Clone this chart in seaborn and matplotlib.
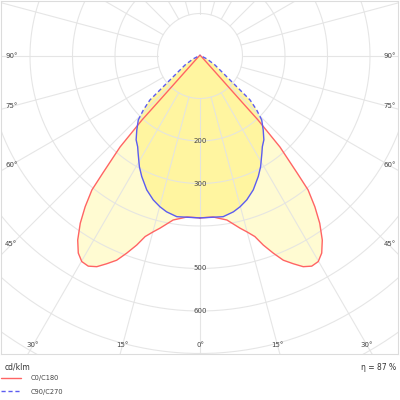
import numpy as np
import pandas as pd
import matplotlib
matplotlib.use("Agg")
import matplotlib.pyplot as plt
import seaborn as sns

# luminous intensity (cd/klm) against gamma (deg), both planes symmetric
c0_gamma = [0, 4.6, 9.3, 13.1, 14.9, 16.9, 18.5, 20.4, 22.2, 24.2, 26.1, 28.0, 29.9,
            31.7, 33.6, 35.6, 37.3, 38.9, 39.7, 41.3, 42.2, 42.3, 42.6, 43.6, 46.5, 60, 90, 180]
c0_cd = [381, 380, 391, 416, 428, 444, 469, 495, 519, 536, 552, 560, 558,
         545, 520, 484, 446, 405, 358, 285, 203, 152, 101, 50, 19, 5, 2, 2]

c90_gamma = [0, 8.2, 12.1, 14.9, 18.0, 21.7, 25.8, 28.7, 32.5, 34.5, 37.3, 40.5,
             44.0, 46.4, 48.7, 50.4, 52.8, 59, 67, 90, 180]
c90_cd = [381, 382, 375, 367, 356, 339, 315, 297, 271, 259, 248, 229,
          209, 184, 157, 107, 74, 41, 18, 3, 2]

ring_values = [100, 200, 300, 400, 500, 600, 700, 800, 900]
ring_labels = [200, 300, 500, 600]
side_angles = [90, 75, 60, 45]
bottom_angles = [30, 15, 0]
spoke_step = 15
unit = "cd/klm"
efficiency = "η = 87 %"
names = ["C0/C180", "C90/C270"]

red = "#ff6464"
blue = "#5c5cf0"
fill_c0 = "#fffbd2"
fill_c90 = "#fff5a0"
grid_col = "#e3e3e3"


def to_xy(gamma, cd):
    g = np.radians(gamma)
    r = np.asarray(cd, dtype=float)
    return r * np.sin(g), -r * np.cos(g)


def outline(gamma, cd):
    x, y = to_xy(gamma, cd)
    return np.concatenate([x, -x[::-1]]), np.concatenate([y, y[::-1]])


sns.set_theme(style="white")
plt.rcParams["font.family"] = ["DejaVu Sans"]

fig = plt.figure(figsize=(4, 4), dpi=100)
ax = fig.add_axes([1 / 400, 46 / 400, 397 / 400, 353 / 400])
s = 0.425  # px per cd/klm
ax.set_xlim((1 - 200) / s, (398 - 200) / s)
ax.set_ylim(-(354 - 56) / s, (56 - 1) / s)
ax.set_xticks([])
ax.set_yticks([])
for sp in ax.spines.values():
    sp.set_color("#dcdcdc")
    sp.set_linewidth(0.8)

# fills
fx, fy = outline(c0_gamma, c0_cd)
ax.fill(fx, fy, color=fill_c0, zorder=1, lw=0)
fx, fy = outline(c90_gamma, c90_cd)
ax.fill(fx, fy, color=fill_c90, zorder=1.1, lw=0)

# polar grid
t = np.linspace(0, 2 * np.pi, 361)
for rv in ring_values:
    ax.plot(rv * np.sin(t), rv * np.cos(t), color=grid_col, lw=0.8, zorder=2, alpha=0.9)
for a in range(0, 360, spoke_step):
    ar = np.radians(a)
    ax.plot([100 * np.sin(ar), 1200 * np.sin(ar)], [-100 * np.cos(ar), -1200 * np.cos(ar)],
            color=grid_col, lw=0.8, zorder=2, alpha=0.9)

# curves
x0, y0 = outline(c0_gamma, c0_cd)
d0 = pd.DataFrame({"x": x0, "y": y0})
sns.lineplot(data=d0, x="x", y="y", sort=False, estimator=None, color=red, lw=1,
             ax=ax, zorder=3, label=names[0])

g90 = np.array(c90_gamma)
cd90 = np.array(c90_cd)
lo = g90 <= 44
hi = g90 >= 44
xs, ys = to_xy(g90[lo], cd90[lo])
d_solid = pd.DataFrame({"x": np.concatenate([-xs[::-1], xs]), "y": np.concatenate([ys[::-1], ys])})
sns.lineplot(data=d_solid, x="x", y="y", sort=False, estimator=None, color=blue, lw=1,
             ax=ax, zorder=4)
xh, yh = to_xy(g90[hi], cd90[hi])
for sign, lab in [(1, names[1]), (-1, None)]:
    dh = pd.DataFrame({"x": sign * xh, "y": yh})
    sns.lineplot(data=dh, x="x", y="y", sort=False, estimator=None, color=blue, lw=1,
                 ax=ax, zorder=4, linestyle=(0, (3, 2)), label=lab)

handles, labels = ax.get_legend_handles_labels()
ax.get_legend().remove()
ax.set_xlabel("")
ax.set_ylabel("")

# labels
txt = dict(fontsize=5, color="#444444", zorder=5)
for rv in ring_labels:
    ax.text(0, -rv, str(rv), ha="center", va="center", **txt)
xe = (388 - 200) / s
for a in side_angles:
    yv = -xe / np.tan(np.radians(a)) if a != 90 else 0
    ax.text((5 - 200) / s, yv, f"{a}°", ha="left", va="center", **txt)
    ax.text((396 - 200) / s, yv, f"{a}°", ha="right", va="center", **txt)
yb = -(345 - 56) / s
for a in bottom_angles:
    xv = -yb * np.tan(np.radians(a))
    ax.text(xv, yb, f"{a}°", ha="center", va="center", **txt)
    if a != 0:
        ax.text(-xv, yb, f"{a}°", ha="center", va="center", **txt)

fig.text(5 / 400, 1 - 367 / 400, unit, ha="left", va="center", fontsize=5.5, color="#333333")
fig.text(396 / 400, 1 - 367 / 400, efficiency, ha="right", va="center", fontsize=5.5, color="#333333")
fig.legend(handles, labels, loc="upper left", bbox_to_anchor=(0, 1 - 374 / 400), frameon=False,
           fontsize=4.8, handlelength=3.0, handletextpad=1.4, labelspacing=1.1, borderpad=0.2,
           borderaxespad=0, labelcolor="#444444")

fig.savefig("out.png", dpi=100)
